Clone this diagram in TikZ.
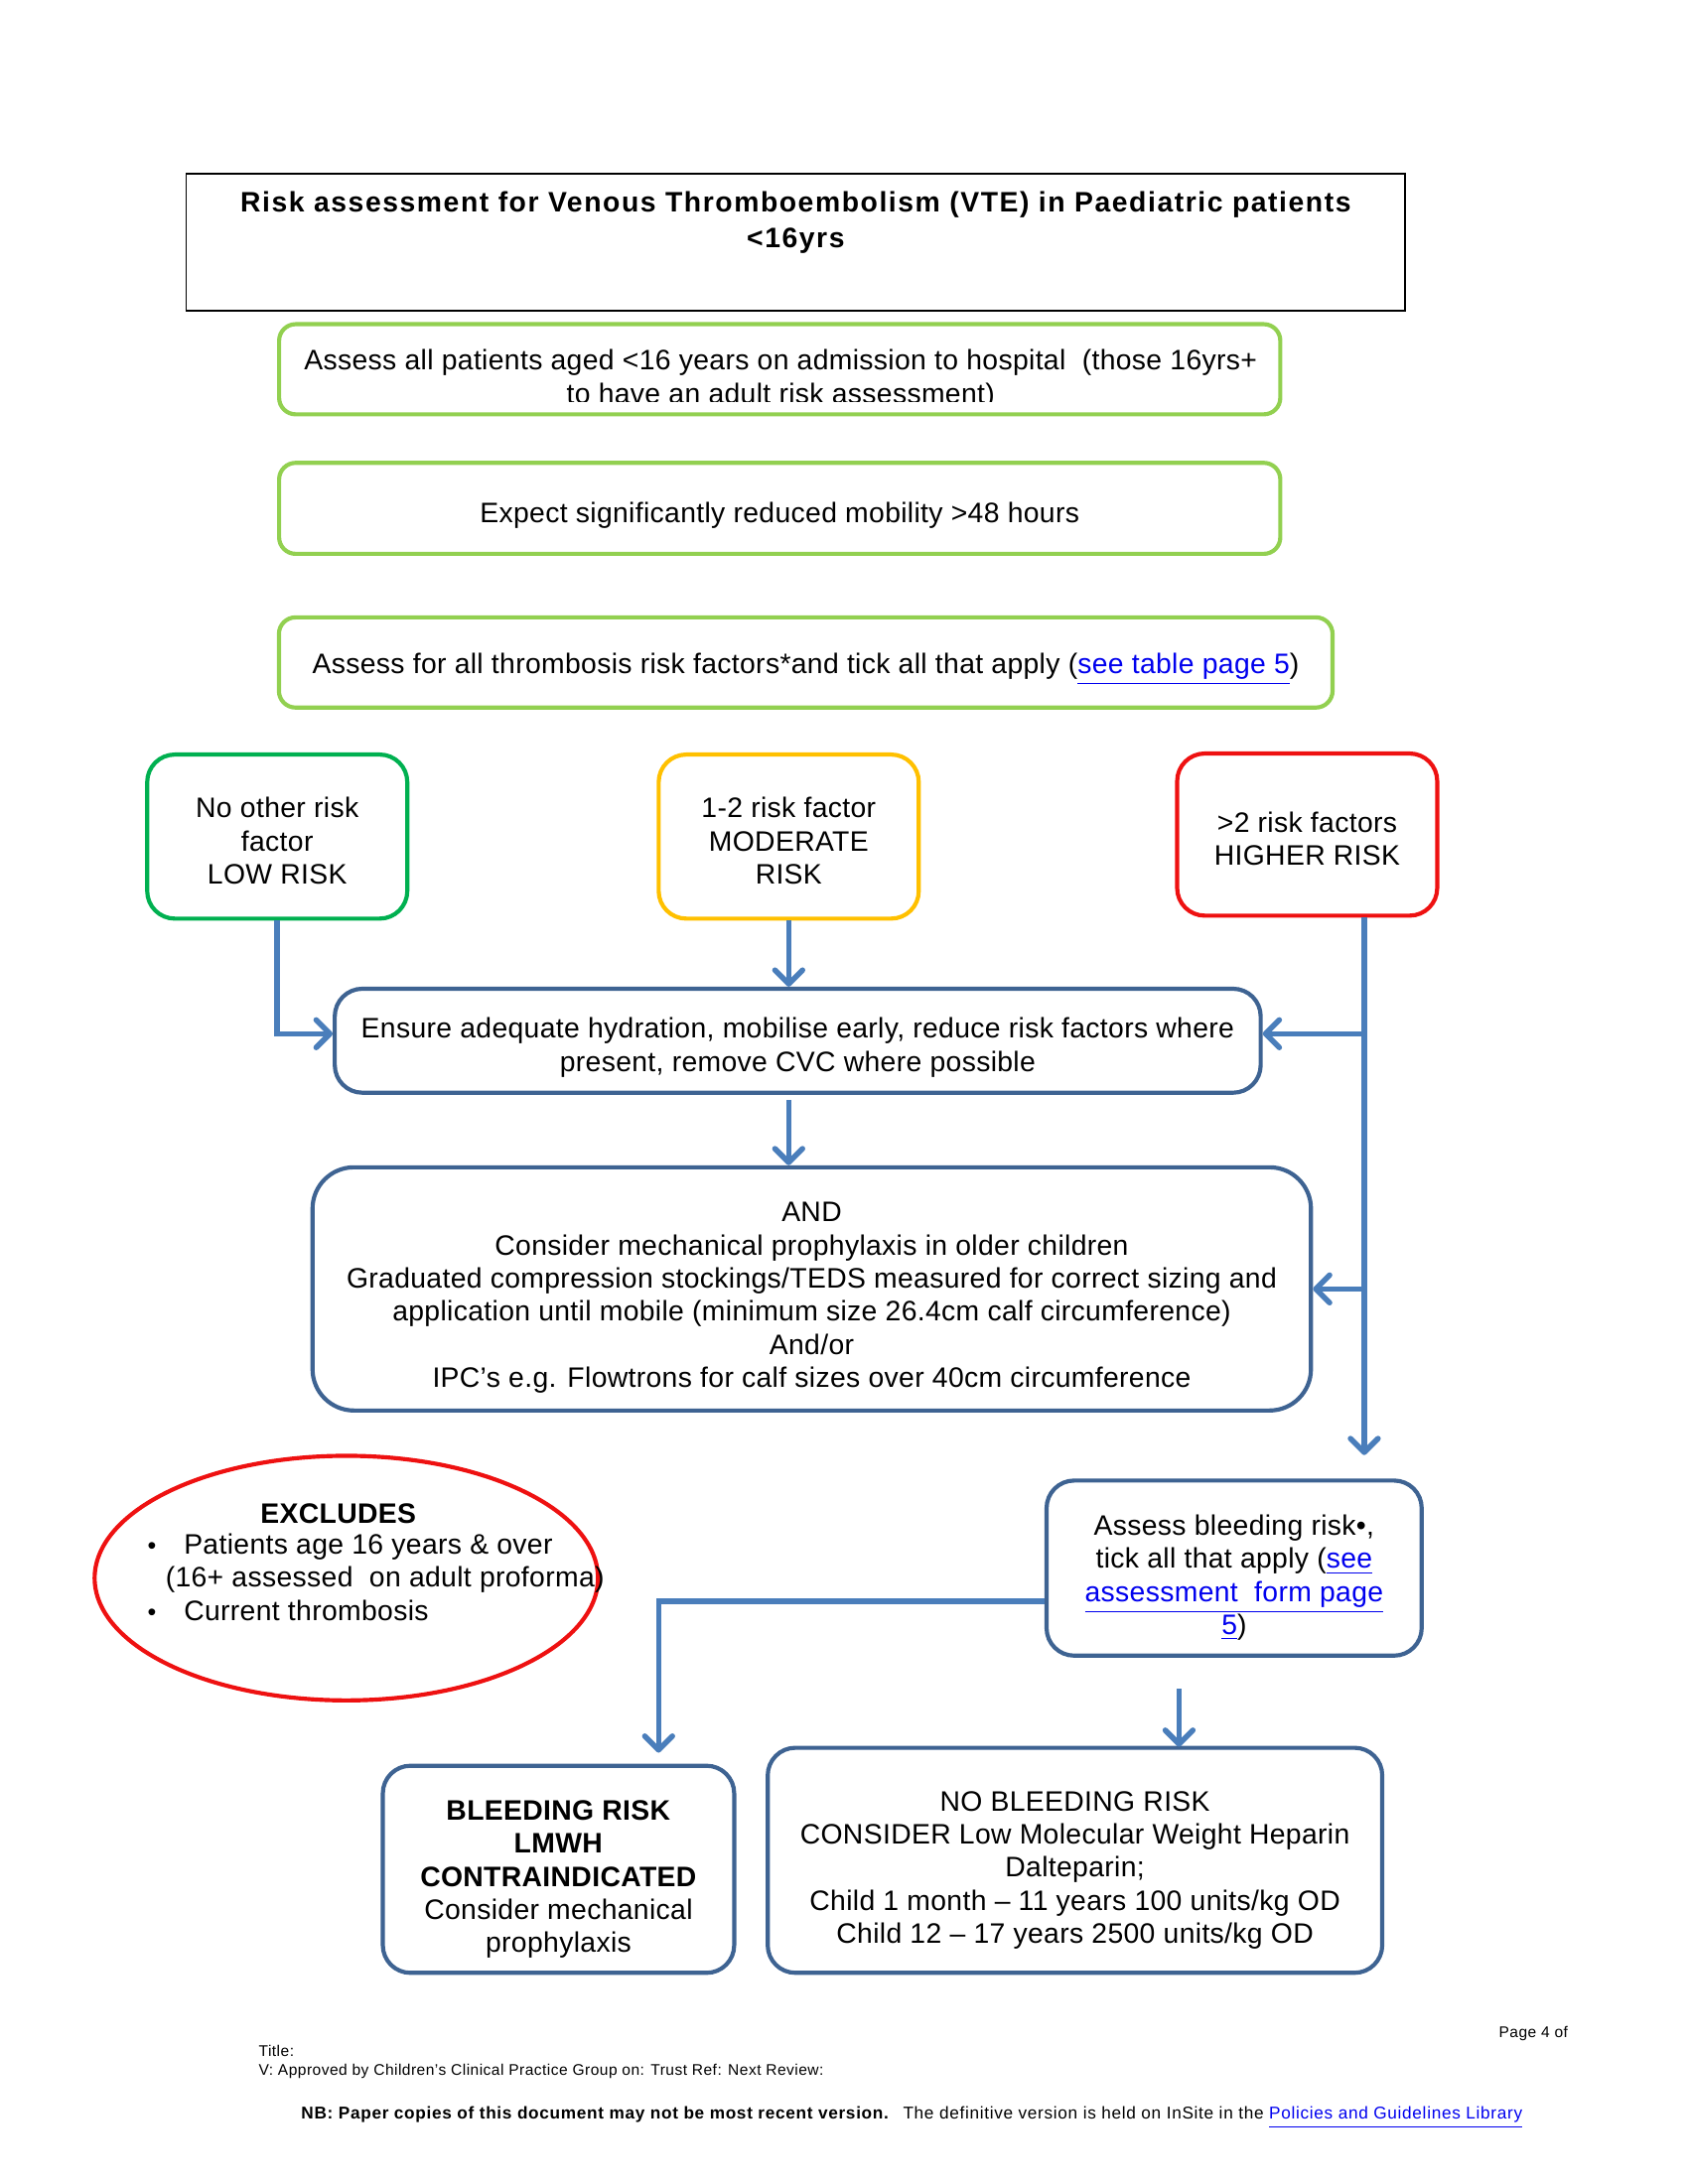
\documentclass[tikz,border=0pt]{standalone}
\usepackage{fontspec}
\setmainfont{Liberation Sans}[LetterSpace=1.2]
\usetikzlibrary{calc,arrows.meta,shapes.geometric}
\definecolor{light_green}{HTML}{92D050}
\definecolor{low_green}{HTML}{00B050}
\definecolor{mod_orange}{HTML}{FFC000}
\definecolor{high_red}{HTML}{EE1111}
\definecolor{box_blue}{HTML}{3E6392}
\definecolor{arrow_blue}{HTML}{4A7EBB}
\definecolor{link_blue}{HTML}{0000EE}

\tikzset{
  txt/.style={font=\fontsize{10.2}{12}\selectfont, align=center},
  textdrop/.style={execute at begin node={\rule{0pt}{#1}}},
  greenbox/.style={txt, textdrop=12.4pt, draw=light_green, line width=1.5pt, rounded corners=6pt, minimum width=363pt, minimum height=32.7pt},
  riskbox/.style={txt, line width=1.5pt, rounded corners=10pt, minimum width=94.3pt, minimum height=59.5pt},
  bluebox/.style={txt, draw=box_blue, line width=1.5pt, rounded corners=10pt},
  flowarrow/.style={draw=arrow_blue, line width=2pt, -{Straight Barb[length=5pt,width=10pt,line width=2pt,round]}},
  foot/.style={font=\fontsize{5.6}{6.6}\selectfont\addfontfeatures{LetterSpace=3}, inner sep=0pt},
}
\newcommand{\lnk}[1]{\textcolor{link_blue}{\underline{#1}}}
\newcommand{\topgap}[1]{\rule{0pt}{#1}}

\begin{document}
\begin{tikzpicture}[x=0.3629pt,y=-0.3629pt]

    \useasboundingbox (0,0) rectangle (1686.5,2182.5);

    % Titre
    \node[draw, line width=0.7pt, minimum width=442pt, minimum height=49.4pt] (title) at (795,242) {};
    \node[txt, font=\fontsize{10.2}{13}\bfseries\addfontfeatures{LetterSpace=5.5}] (titletxt) at (795,222) {Risk assessment for Venous Thromboembolism (VTE) in Paediatric patients\\ <16yrs};

    % Les trois cadres verts
    \node[greenbox, textdrop=0pt] (assess) at (779,369) {};
    \begin{scope}
        \clip (279,324) rectangle (1279,401);
        \node[txt] (assesstxt) at (780,379) {Assess all patients aged <16 years on admission to hospital\ \ (those 16yrs+\\ to have an adult risk assessment)};
    \end{scope}
    \node[greenbox, minimum height=33pt] (mobility) at (779,508) {Expect significantly reduced mobility >48 hours};
    \node[greenbox, minimum width=382pt] (factors) at (805,662) {Assess for all thrombosis risk factors*and tick all that apply (\lnk{see table page 5})};

    % Niveaux de risque
    \node[riskbox, draw=low_green] (low) at (277,836) {\topgap{10.4pt}No other risk\\ factor\\ LOW RISK};
    \node[riskbox, draw=mod_orange] (mod) at (788,836) {\topgap{10.4pt}1-2 risk factor\\ MODERATE\\ RISK};
    \node[riskbox, draw=high_red, minimum height=58.8pt] (high) at (1306,834) {\topgap{10.4pt}>2 risk factors\\ HIGHER RISK};

    % Mesures
    \node[bluebox, minimum width=335.7pt, minimum height=37.7pt] (ensure) at (797,1040) {\topgap{12.4pt}Ensure adequate hydration, mobilise early, reduce risk factors where\\ present, remove CVC where possible};
    \node[bluebox, rounded corners=15pt, minimum width=362pt, minimum height=88.2pt] (mech) at (811,1288) {\topgap{13.4pt}AND\\ Consider mechanical prophylaxis in older children\\ Graduated compression stockings/TEDS measured for correct sizing and\\ application until mobile (minimum size 26.4cm calf circumference)\\ And/or\\ IPC’s e.g. Flowtrons for calf sizes over 40cm circumference};

    % Exclusions
    \node[draw=high_red, line width=1.5pt, ellipse, minimum width=182.5pt, minimum height=88.7pt] (excl) at (346,1577) {};
    \node[txt, font=\fontsize{10.2}{12}\bfseries] (excltitle) at (338,1513) {EXCLUDES};
    \node[txt, align=left, anchor=north west, inner sep=0pt] (excllist) at (147,1532) {{\small•}\hspace{10pt}Patients age 16 years \& over\\ \hspace{6.5pt}(16+ assessed\ \ on adult proforma)\\ {\small•}\hspace{10pt}Current thrombosis};

    % Saignement
    \node[bluebox, minimum width=136pt, minimum height=63.5pt] (bleed) at (1233,1567) {\topgap{14.4pt}Assess bleeding risk•,\\ tick all that apply (\lnk{see}\\ \lnk{assessment\ \ form page}\\ \lnk{5})};
    \node[bluebox, minimum width=127.4pt, minimum height=75.1pt] (lmwh) at (558,1868) {\topgap{14.4pt}\textbf{BLEEDING RISK}\\ \textbf{LMWH}\\ \textbf{CONTRAINDICATED}\\ Consider mechanical\\ prophylaxis};
    \node[bluebox, minimum width=222.8pt, minimum height=81.6pt] (nobleed) at (1074,1859) {\topgap{14.4pt}NO BLEEDING RISK\\ CONSIDER Low Molecular Weight Heparin\\ Dalteparin;\\ Child 1 month – 11 years 100 units/kg OD\\ Child 12 – 17 years 2500 units/kg OD};

    % Flèches
    \coordinate (hightop) at ($(high.south)+(57,0)$);
    \coordinate (highend) at ($(high.south)+(57,537)$);
    \coordinate (ensurein) at ($(ensure.west)+(0,-7)$);
    \coordinate (ensureout) at ($(ensure.east)+(0,-7)$);
    \draw[flowarrow] (low.south) |- (ensurein);
    \draw[flowarrow] (mod.south) -- (mod.south |- ensure.north);
    \draw[flowarrow] (hightop) -- (highend);
    \draw[flowarrow] (hightop |- ensureout) -- (ensureout);
    \draw[flowarrow] (hightop |- mech.east) -- (mech.east);
    \draw[flowarrow, shorten <=2pt] (mod.south |- ensure.south) -- (mod.south |- mech.north);
    \draw[flowarrow] ($(bleed.west)+(0,33)$) -| ($(lmwh.north)+(100,-11)$);
    \draw[flowarrow] ($(bleed.south)+(-55,31)$) -- ($(bleed.south)+(-55,89)$);

    % Pied de page
    \node[foot, anchor=east] (pagenum) at (1567,2032) {Page 4 of};
    \node[foot, anchor=west] (foottitle) at (258,2049) {Title:};
    \node[foot, anchor=west] (footver) at (258,2070) {V:  Approved by Children’s Clinical Practice Group on:  Trust Ref:    Next Review:};
    \node[foot, font=\fontsize{6.2}{7}\selectfont\addfontfeatures{LetterSpace=4}] (footnb) at (911,2116) {\textbf{NB: Paper copies of this document may not be most recent version.}\hspace{5pt}The definitive version is held on InSite in the \lnk{Policies and Guidelines Library}};
\end{tikzpicture}
\end{document}
